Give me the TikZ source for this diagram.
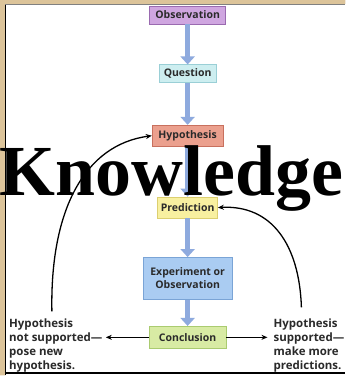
\documentclass[tikz,border=0pt]{standalone}
\usepackage{fontspec}
\setmainfont{Open Sans}
\newfontfamily\bigserif{Liberation Serif}
\usetikzlibrary{arrows.meta}
\definecolor{parch}{HTML}{DCC49A}
\definecolor{obsfill}{HTML}{CFA6E0}
\definecolor{obsdraw}{HTML}{9A6AB0}
\definecolor{qfill}{HTML}{CDEEF0}
\definecolor{qdraw}{HTML}{9ACFD6}
\definecolor{hfill}{HTML}{EBA08E}
\definecolor{hdraw}{HTML}{C8705E}
\definecolor{pfill}{HTML}{F8F0A0}
\definecolor{pdraw}{HTML}{DCCF70}
\definecolor{efill}{HTML}{AACCF2}
\definecolor{edraw}{HTML}{7AA4D6}
\definecolor{cfill}{HTML}{D8EBA4}
\definecolor{cdraw}{HTML}{AACB70}
\definecolor{flow}{HTML}{8EAADE}
\definecolor{txt}{HTML}{2A2A2A}
\tikzset{
  box/.style={draw, line width=0.8pt, font=\bfseries\fontsize{10.5}{13}\selectfont, text=txt, inner xsep=3pt, inner ysep=3pt, align=center},
  flowarrow/.style={draw=flow, line width=5pt, -{Triangle[width=14pt,length=8pt]}},
  curvearrow/.style={draw=black, line width=1.3pt, -{Stealth[width=5pt,length=6pt]}},
  side/.style={font=\bfseries\fontsize{11.5}{14}\selectfont, text=txt, align=left, inner sep=0pt}
}
\begin{document}
\begin{tikzpicture}[x=1pt,y=-1pt]
\fill[white] (0,0) rectangle (346,376);
\fill[parch] (0,0) rectangle (346,4) (0,0) rectangle (5,376);
\draw[black, line width=1.5pt] (5.5,376) -- (5.5,4);
\draw[gray, line width=1.5pt] (5,4.5) -- (346,4.5);
\draw[black, line width=1.5pt] (5,373.5) -- (346,373.5);

\node[box, fill=obsfill, draw=obsdraw, minimum width=76pt, minimum height=18pt] (obs) at (188,15) {Observation};
\node[box, fill=qfill, draw=qdraw, minimum width=57pt, minimum height=18pt] (q) at (188,74) {Question};
\node[box, fill=hfill, draw=hdraw, minimum width=71pt, minimum height=21pt] (h) at (188,136) {Hypothesis};
\node[box, fill=pfill, draw=pdraw, minimum width=57pt, minimum height=21pt] (p) at (188,208) {Prediction};
\node[box, fill=efill, draw=edraw, minimum width=89pt, minimum height=42pt] (e) at (188,279) {Experiment or\\Observation};
\node[box, fill=cfill, draw=cdraw, minimum width=77pt, minimum height=22pt] (c) at (188,338) {Conclusion};

\draw[flowarrow] (obs.south) -- (q.north);
\draw[flowarrow] (q.south) -- (h.north);
\draw[flowarrow] (h.south) -- (p.north);
\draw[flowarrow] (p.south) -- (e.north);
\draw[flowarrow] (e.south) -- (c.north);

\node[side, anchor=north west] (ln) at (9,319) {Hypothesis\\not supported—\\pose new\\hypothesis.};
\node[side, anchor=north west] (rn) at (274,319) {Hypothesis\\supported—\\make more\\predictions.};

\coordinate (lend) at (106,338);
\coordinate (rend) at (268,338);
\draw[curvearrow] (c.west) -- (lend);
\draw[curvearrow] (c.east) -- (rend);

\coordinate (lstart) at (52,312);
\coordinate (rstart) at (302,308);
\draw[curvearrow] (lstart) .. controls (50,210) and (85,145) .. (h.west);
\draw[curvearrow] (rstart) .. controls (300,245) and (272,205) .. (p.east);

\node[font=\bigserif\bfseries\fontsize{72}{72}\selectfont, inner sep=0pt, anchor=base] (kn) at (172,196) {Knowledge};
\end{tikzpicture}
\end{document}
